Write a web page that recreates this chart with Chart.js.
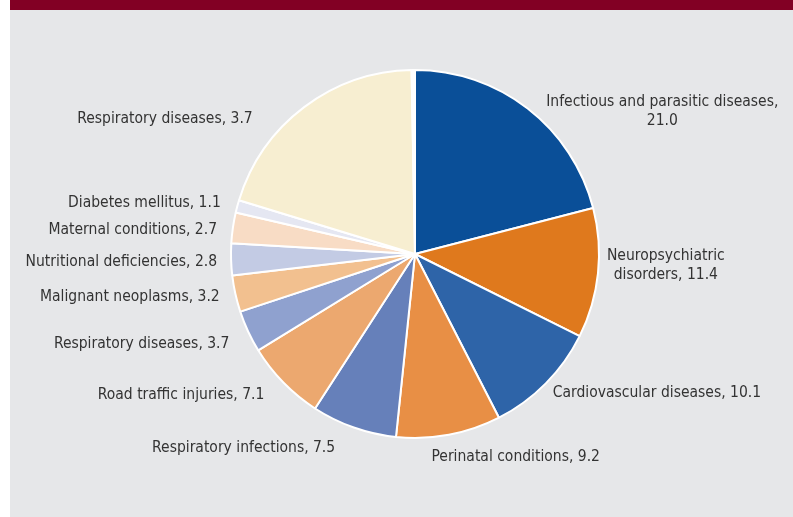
<!DOCTYPE html>
<html>
<head>
<meta charset="utf-8">
<script src="https://cdn.jsdelivr.net/npm/chart.js@4.4.0/dist/chart.umd.min.js"></script>
<style>
  html, body { margin: 0; padding: 0; background: #fff; }
  #wrap { position: relative; width: 793px; height: 517px; overflow: hidden; }
  #topbar { position: absolute; left: 10px; top: 0; width: 783px; height: 10px; background: #820024; }
  #panel { position: absolute; left: 10px; top: 10px; width: 783px; height: 507px; background: #e6e7e9; }
  #pie { position: absolute; left: 0; top: 0; }
</style>
</head>
<body>
<div id="wrap">
  <div id="topbar"></div>
  <div id="panel"></div>
  <canvas id="pie" width="793" height="517"></canvas>
</div>
<script>
'use strict';

// categories (\n = where the label wraps)
var categories = [
  'Infectious and parasitic diseases,\n21.0',
  'Neuropsychiatric\ndisorders, 11.4',
  'Cardiovascular diseases, 10.1',
  'Perinatal conditions, 9.2',
  'Respiratory infections, 7.5',
  'Road traffic injuries, 7.1',
  'Respiratory diseases, 3.7',
  'Malignant neoplasms, 3.2',
  'Nutritional deficiencies, 2.8',
  'Maternal conditions, 2.7',
  'Diabetes mellitus, 1.1',
  'Respiratory diseases, 3.7',
  ''
];
// slice sizes
var shares = [21.0, 11.4, 10.1, 9.2, 7.5, 7.1, 3.7, 3.2, 2.8, 2.7, 1.1, 20.0, 0.3];
var colors = ['#0a4f98', '#df791d', '#2e64a8', '#e88f45', '#6680ba', '#eca86f',
              '#8fa1cf', '#f2c08f', '#c3cbe4', '#f8dcc5', '#e5e7f2', '#f7eed1', '#ffffff'];

// small hand nudges for the outside labels (px)
var nudge = [[10, 14], [-5, -9], [-3, 0], [-20, 8], [-14, 7], [-9, 3],
             [-6, 7], [-2, 0], [0, 2], [-2, 4], [-3, 0], [-43, 23], [0, 0]];

var outsideLabels = {
    id: 'outsideLabels',
    afterDatasetsDraw: function (chart) {
        var ctx = chart.ctx;
        var meta = chart.getDatasetMeta(0);
        ctx.save();
        ctx.font = '15.5px "DejaVu Sans Condensed", "DejaVu Sans", sans-serif';
        ctx.fillStyle = '#333333';
        ctx.textBaseline = 'middle';
        ctx.textAlign = 'center';
        meta.data.forEach(function (arc, i) {
            var txt = chart.data.labels[i];
            if (!txt) return;
            var p = arc.getProps(['x', 'y', 'startAngle', 'endAngle', 'outerRadius'], true);
            var mid = (p.startAngle + p.endAngle) / 2;
            var r = p.outerRadius + 14;
            var ax = p.x + Math.cos(mid) * r;
            var ay = p.y + Math.sin(mid) * r;
            var lines = txt.split('\n');
            var w = 0;
            lines.forEach(function (l) { w = Math.max(w, ctx.measureText(l).width); });
            var lh = 19;
            var cx = Math.cos(mid) >= 0 ? ax + w / 2 : ax - w / 2;
            var cy = ay;
            cx += nudge[i][0];
            cy += nudge[i][1];
            lines.forEach(function (l, k) {
                ctx.fillText(l, cx, cy + (k - (lines.length - 1) / 2) * lh);
            });
        });
        ctx.restore();
    }
};

var ctxPie = document.getElementById('pie').getContext('2d');
var chartPie = new Chart(ctxPie, {
    type: 'pie',
    data: {
        labels: categories,
        datasets: [{
            data: shares,
            backgroundColor: colors,
            borderColor: '#ffffff',
            borderWidth: 2
        }]
    },
    options: {
        responsive: false,
        animation: false,
        layout: { padding: { left: 230, right: 193, top: 69, bottom: 78 } },
        plugins: {
            legend: { display: false },
            tooltip: { enabled: false }
        }
    },
    plugins: [outsideLabels]
});
</script>
</body>
</html>
